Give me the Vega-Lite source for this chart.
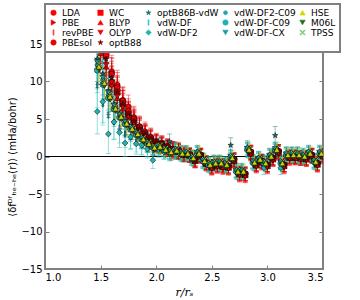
{
"$schema":"https://vega.github.io/schema/vega-lite/v6.json",
"width":278,"height":225,
"autosize":{"type":"none"},
"padding":{"left":45,"top":44,"right":37,"bottom":31},
"config":{
"font":"DejaVu Sans",
"view":{"stroke":"#808080","strokeWidth":2},
"axis":{"grid":false,"domain":false,"tickColor":"#808080","tickSize":-4,"tickWidth":1,"labelFontSize":10,"labelColor":"black","labelPadding":7,"titleFontWeight":"normal","titleColor":"black"},
"legend":{"orient":"none","legendX":0,"legendY":-40,"columns":5,"symbolSize":30,"labelFontSize":9,"labelOffset":4,"rowPadding":-2,"columnPadding":2,"padding":4,"strokeColor":"#808080","strokeWidth":2,"fillColor":"white","symbolStrokeColor":"black","symbolStrokeWidth":0.5,"symbolOpacity":1,"title":null}
},
"data":{"values":[
{"s":"LDA","x":1.5,"y":16,"e":2.6},{"s":"LDA","x":1.55,"y":14.9,"e":2.4},{"s":"LDA","x":1.6,"y":11.3,"e":2.2},{"s":"LDA","x":1.65,"y":9.5,"e":2},{"s":"LDA","x":1.7,"y":7.5,"e":1.8},{"s":"LDA","x":1.75,"y":6.6,"e":1.6},{"s":"LDA","x":1.8,"y":5.2,"e":1.5},{"s":"LDA","x":1.85,"y":4,"e":1.4},{"s":"LDA","x":1.9,"y":3.3,"e":1.3},{"s":"LDA","x":1.95,"y":2.6,"e":1.2},{"s":"LDA","x":2,"y":2,"e":1.1},{"s":"LDA","x":2.05,"y":1.8,"e":1},{"s":"LDA","x":2.1,"y":1.4,"e":1},{"s":"LDA","x":2.15,"y":1,"e":1},{"s":"LDA","x":2.2,"y":0.9,"e":1},{"s":"LDA","x":2.25,"y":0.5,"e":0.9},{"s":"LDA","x":2.3,"y":0.3,"e":0.9},{"s":"LDA","x":2.35,"y":-0.3,"e":0.9},{"s":"LDA","x":2.4,"y":0.2,"e":0.9},{"s":"LDA","x":2.45,"y":-0.8,"e":0.9},{"s":"LDA","x":2.5,"y":-1.3,"e":0.9},{"s":"LDA","x":2.55,"y":-1,"e":0.9},{"s":"LDA","x":2.6,"y":-1.2,"e":0.9},{"s":"LDA","x":2.65,"y":-1.3,"e":0.9},{"s":"LDA","x":2.7,"y":-0.4,"e":0.9},{"s":"LDA","x":2.75,"y":-2.2,"e":0.9},{"s":"LDA","x":2.8,"y":-2.3,"e":0.9},{"s":"LDA","x":2.85,"y":0.6,"e":0.9},{"s":"LDA","x":2.9,"y":-1,"e":0.9},{"s":"LDA","x":2.95,"y":-0.6,"e":0.9},{"s":"LDA","x":3,"y":-1.1,"e":0.9},{"s":"LDA","x":3.05,"y":-0.2,"e":0.9},{"s":"LDA","x":3.1,"y":0.7,"e":0.9},{"s":"LDA","x":3.15,"y":-1.1,"e":0.9},{"s":"LDA","x":3.2,"y":0,"e":0.9},{"s":"LDA","x":3.25,"y":0,"e":0.9},{"s":"LDA","x":3.3,"y":-0.1,"e":0.9},{"s":"LDA","x":3.35,"y":-0.2,"e":0.9},{"s":"LDA","x":3.4,"y":0.2,"e":0.9},{"s":"LDA","x":3.45,"y":-0.9,"e":0.9},{"s":"LDA","x":3.5,"y":0.2,"e":0.9},
{"s":"PBE","x":1.5,"y":15.2,"e":2.6},{"s":"PBE","x":1.55,"y":13.3,"e":2.4},{"s":"PBE","x":1.6,"y":10.9,"e":2.2},{"s":"PBE","x":1.65,"y":8.8,"e":2},{"s":"PBE","x":1.7,"y":7.2,"e":1.8},{"s":"PBE","x":1.75,"y":5.8,"e":1.6},{"s":"PBE","x":1.8,"y":4.8,"e":1.5},{"s":"PBE","x":1.85,"y":3.8,"e":1.4},{"s":"PBE","x":1.9,"y":3,"e":1.3},{"s":"PBE","x":1.95,"y":2.4,"e":1.2},{"s":"PBE","x":2,"y":1.8,"e":1.1},{"s":"PBE","x":2.05,"y":1.6,"e":1},{"s":"PBE","x":2.1,"y":1.2,"e":1},{"s":"PBE","x":2.15,"y":0.9,"e":1},{"s":"PBE","x":2.2,"y":0.7,"e":1},{"s":"PBE","x":2.25,"y":0.3,"e":0.9},{"s":"PBE","x":2.3,"y":0.2,"e":0.9},{"s":"PBE","x":2.35,"y":-0.5,"e":0.9},{"s":"PBE","x":2.4,"y":0.1,"e":0.9},{"s":"PBE","x":2.45,"y":-0.9,"e":0.9},{"s":"PBE","x":2.5,"y":-1.4,"e":0.9},{"s":"PBE","x":2.55,"y":-1.2,"e":0.9},{"s":"PBE","x":2.6,"y":-1.3,"e":0.9},{"s":"PBE","x":2.65,"y":-1.4,"e":0.9},{"s":"PBE","x":2.7,"y":-0.5,"e":0.9},{"s":"PBE","x":2.75,"y":-2.3,"e":0.9},{"s":"PBE","x":2.8,"y":-2.4,"e":0.9},{"s":"PBE","x":2.85,"y":0.5,"e":0.9},{"s":"PBE","x":2.9,"y":-1.1,"e":0.9},{"s":"PBE","x":2.95,"y":-0.7,"e":0.9},{"s":"PBE","x":3,"y":-1.2,"e":0.9},{"s":"PBE","x":3.05,"y":-0.3,"e":0.9},{"s":"PBE","x":3.1,"y":0.6,"e":0.9},{"s":"PBE","x":3.15,"y":-1.2,"e":0.9},{"s":"PBE","x":3.2,"y":-0.1,"e":0.9},{"s":"PBE","x":3.25,"y":-0.1,"e":0.9},{"s":"PBE","x":3.3,"y":-0.2,"e":0.9},{"s":"PBE","x":3.35,"y":-0.3,"e":0.9},{"s":"PBE","x":3.4,"y":0.1,"e":0.9},{"s":"PBE","x":3.45,"y":-1,"e":0.9},{"s":"PBE","x":3.5,"y":0.1,"e":0.9},
{"s":"revPBE","x":1.5,"y":14.5,"e":2.6},{"s":"revPBE","x":1.55,"y":12.5,"e":2.4},{"s":"revPBE","x":1.6,"y":10.2,"e":2.2},{"s":"revPBE","x":1.65,"y":8.2,"e":2},{"s":"revPBE","x":1.7,"y":6.8,"e":1.8},{"s":"revPBE","x":1.75,"y":5.5,"e":1.6},{"s":"revPBE","x":1.8,"y":4.5,"e":1.5},{"s":"revPBE","x":1.85,"y":3.6,"e":1.4},{"s":"revPBE","x":1.9,"y":2.8,"e":1.3},{"s":"revPBE","x":1.95,"y":2.2,"e":1.2},{"s":"revPBE","x":2,"y":1.7,"e":1.1},{"s":"revPBE","x":2.05,"y":1.5,"e":1},{"s":"revPBE","x":2.1,"y":1.1,"e":1},{"s":"revPBE","x":2.15,"y":0.8,"e":1},{"s":"revPBE","x":2.2,"y":0.6,"e":1},{"s":"revPBE","x":2.25,"y":0.2,"e":0.9},{"s":"revPBE","x":2.3,"y":0.1,"e":0.9},{"s":"revPBE","x":2.35,"y":-0.6,"e":0.9},{"s":"revPBE","x":2.4,"y":0,"e":0.9},{"s":"revPBE","x":2.45,"y":-1,"e":0.9},{"s":"revPBE","x":2.5,"y":-1.5,"e":0.9},{"s":"revPBE","x":2.55,"y":-1.3,"e":0.9},{"s":"revPBE","x":2.6,"y":-1.4,"e":0.9},{"s":"revPBE","x":2.65,"y":-1.5,"e":0.9},{"s":"revPBE","x":2.7,"y":-0.6,"e":0.9},{"s":"revPBE","x":2.75,"y":-2.4,"e":0.9},{"s":"revPBE","x":2.8,"y":-2.5,"e":0.9},{"s":"revPBE","x":2.85,"y":0.4,"e":0.9},{"s":"revPBE","x":2.9,"y":-1.2,"e":0.9},{"s":"revPBE","x":2.95,"y":-0.8,"e":0.9},{"s":"revPBE","x":3,"y":-1.3,"e":0.9},{"s":"revPBE","x":3.05,"y":-0.4,"e":0.9},{"s":"revPBE","x":3.1,"y":0.5,"e":0.9},{"s":"revPBE","x":3.15,"y":-1.3,"e":0.9},{"s":"revPBE","x":3.2,"y":-0.2,"e":0.9},{"s":"revPBE","x":3.25,"y":-0.2,"e":0.9},{"s":"revPBE","x":3.3,"y":-0.3,"e":0.9},{"s":"revPBE","x":3.35,"y":-0.4,"e":0.9},{"s":"revPBE","x":3.4,"y":0,"e":0.9},{"s":"revPBE","x":3.45,"y":-1.1,"e":0.9},{"s":"revPBE","x":3.5,"y":0,"e":0.9},
{"s":"PBEsol","x":1.5,"y":15.8,"e":2.6},{"s":"PBEsol","x":1.55,"y":14,"e":2.4},{"s":"PBEsol","x":1.6,"y":11,"e":2.2},{"s":"PBEsol","x":1.65,"y":9.2,"e":2},{"s":"PBEsol","x":1.7,"y":7.4,"e":1.8},{"s":"PBEsol","x":1.75,"y":6.1,"e":1.6},{"s":"PBEsol","x":1.8,"y":5,"e":1.5},{"s":"PBEsol","x":1.85,"y":3.9,"e":1.4},{"s":"PBEsol","x":1.9,"y":3.1,"e":1.3},{"s":"PBEsol","x":1.95,"y":2.5,"e":1.2},{"s":"PBEsol","x":2,"y":1.9,"e":1.1},{"s":"PBEsol","x":2.05,"y":1.7,"e":1},{"s":"PBEsol","x":2.1,"y":1.3,"e":1},{"s":"PBEsol","x":2.15,"y":1,"e":1},{"s":"PBEsol","x":2.2,"y":0.8,"e":1},{"s":"PBEsol","x":2.25,"y":0.4,"e":0.9},{"s":"PBEsol","x":2.3,"y":0.2,"e":0.9},{"s":"PBEsol","x":2.35,"y":-0.4,"e":0.9},{"s":"PBEsol","x":2.4,"y":0.2,"e":0.9},{"s":"PBEsol","x":2.45,"y":-0.8,"e":0.9},{"s":"PBEsol","x":2.5,"y":-1.3,"e":0.9},{"s":"PBEsol","x":2.55,"y":-1.1,"e":0.9},{"s":"PBEsol","x":2.6,"y":-1.2,"e":0.9},{"s":"PBEsol","x":2.65,"y":-1.3,"e":0.9},{"s":"PBEsol","x":2.7,"y":-0.4,"e":0.9},{"s":"PBEsol","x":2.75,"y":-2.2,"e":0.9},{"s":"PBEsol","x":2.8,"y":-2.3,"e":0.9},{"s":"PBEsol","x":2.85,"y":0.6,"e":0.9},{"s":"PBEsol","x":2.9,"y":-1,"e":0.9},{"s":"PBEsol","x":2.95,"y":-0.6,"e":0.9},{"s":"PBEsol","x":3,"y":-1.1,"e":0.9},{"s":"PBEsol","x":3.05,"y":-0.2,"e":0.9},{"s":"PBEsol","x":3.1,"y":0.7,"e":0.9},{"s":"PBEsol","x":3.15,"y":-1.1,"e":0.9},{"s":"PBEsol","x":3.2,"y":0,"e":0.9},{"s":"PBEsol","x":3.25,"y":0,"e":0.9},{"s":"PBEsol","x":3.3,"y":-0.1,"e":0.9},{"s":"PBEsol","x":3.35,"y":-0.2,"e":0.9},{"s":"PBEsol","x":3.4,"y":0.2,"e":0.9},{"s":"PBEsol","x":3.45,"y":-0.9,"e":0.9},{"s":"PBEsol","x":3.5,"y":0.2,"e":0.9},
{"s":"WC","x":1.5,"y":15,"e":2.6},{"s":"WC","x":1.55,"y":13.6,"e":2.4},{"s":"WC","x":1.6,"y":9.8,"e":2.2},{"s":"WC","x":1.65,"y":8.6,"e":2},{"s":"WC","x":1.7,"y":7,"e":1.8},{"s":"WC","x":1.75,"y":5.6,"e":1.6},{"s":"WC","x":1.8,"y":4.6,"e":1.5},{"s":"WC","x":1.85,"y":3.7,"e":1.4},{"s":"WC","x":1.9,"y":2.9,"e":1.3},{"s":"WC","x":1.95,"y":2.3,"e":1.2},{"s":"WC","x":2,"y":1.8,"e":1.1},{"s":"WC","x":2.05,"y":1.6,"e":1},{"s":"WC","x":2.1,"y":1.2,"e":1},{"s":"WC","x":2.15,"y":0.9,"e":1},{"s":"WC","x":2.2,"y":0.7,"e":1},{"s":"WC","x":2.25,"y":0.3,"e":0.9},{"s":"WC","x":2.3,"y":0.2,"e":0.9},{"s":"WC","x":2.35,"y":-0.5,"e":0.9},{"s":"WC","x":2.4,"y":0.1,"e":0.9},{"s":"WC","x":2.45,"y":-0.9,"e":0.9},{"s":"WC","x":2.5,"y":-1.4,"e":0.9},{"s":"WC","x":2.55,"y":-1.2,"e":0.9},{"s":"WC","x":2.6,"y":-1.3,"e":0.9},{"s":"WC","x":2.65,"y":-1.4,"e":0.9},{"s":"WC","x":2.7,"y":-0.5,"e":0.9},{"s":"WC","x":2.75,"y":-2.3,"e":0.9},{"s":"WC","x":2.8,"y":-2.4,"e":0.9},{"s":"WC","x":2.85,"y":0.5,"e":0.9},{"s":"WC","x":2.9,"y":-1.1,"e":0.9},{"s":"WC","x":2.95,"y":-0.7,"e":0.9},{"s":"WC","x":3,"y":-1.2,"e":0.9},{"s":"WC","x":3.05,"y":-0.3,"e":0.9},{"s":"WC","x":3.1,"y":0.6,"e":0.9},{"s":"WC","x":3.15,"y":-1.2,"e":0.9},{"s":"WC","x":3.2,"y":-0.1,"e":0.9},{"s":"WC","x":3.25,"y":-0.1,"e":0.9},{"s":"WC","x":3.3,"y":-0.2,"e":0.9},{"s":"WC","x":3.35,"y":-0.3,"e":0.9},{"s":"WC","x":3.4,"y":0.1,"e":0.9},{"s":"WC","x":3.45,"y":-1,"e":0.9},{"s":"WC","x":3.5,"y":0.1,"e":0.9},
{"s":"BLYP","x":1.5,"y":13.8,"e":2.6},{"s":"BLYP","x":1.55,"y":12,"e":2.4},{"s":"BLYP","x":1.6,"y":9.6,"e":2.2},{"s":"BLYP","x":1.65,"y":7.8,"e":2},{"s":"BLYP","x":1.7,"y":6.4,"e":1.8},{"s":"BLYP","x":1.75,"y":5.2,"e":1.6},{"s":"BLYP","x":1.8,"y":4.3,"e":1.5},{"s":"BLYP","x":1.85,"y":3.4,"e":1.4},{"s":"BLYP","x":1.9,"y":2.7,"e":1.3},{"s":"BLYP","x":1.95,"y":2.1,"e":1.2},{"s":"BLYP","x":2,"y":1.6,"e":1.1},{"s":"BLYP","x":2.05,"y":1.4,"e":1},{"s":"BLYP","x":2.1,"y":1,"e":1},{"s":"BLYP","x":2.15,"y":0.7,"e":1},{"s":"BLYP","x":2.2,"y":0.6,"e":1},{"s":"BLYP","x":2.25,"y":0.2,"e":0.9},{"s":"BLYP","x":2.3,"y":0.1,"e":0.9},{"s":"BLYP","x":2.35,"y":-0.6,"e":0.9},{"s":"BLYP","x":2.4,"y":0,"e":0.9},{"s":"BLYP","x":2.45,"y":-1,"e":0.9},{"s":"BLYP","x":2.5,"y":-1.5,"e":0.9},{"s":"BLYP","x":2.55,"y":-1.3,"e":0.9},{"s":"BLYP","x":2.6,"y":-1.4,"e":0.9},{"s":"BLYP","x":2.65,"y":-1.5,"e":0.9},{"s":"BLYP","x":2.7,"y":-0.6,"e":0.9},{"s":"BLYP","x":2.75,"y":-2.4,"e":0.9},{"s":"BLYP","x":2.8,"y":-2.5,"e":0.9},{"s":"BLYP","x":2.85,"y":0.4,"e":0.9},{"s":"BLYP","x":2.9,"y":-1.2,"e":0.9},{"s":"BLYP","x":2.95,"y":-0.8,"e":0.9},{"s":"BLYP","x":3,"y":-1.3,"e":0.9},{"s":"BLYP","x":3.05,"y":-0.4,"e":0.9},{"s":"BLYP","x":3.1,"y":0.5,"e":0.9},{"s":"BLYP","x":3.15,"y":-1.3,"e":0.9},{"s":"BLYP","x":3.2,"y":-0.2,"e":0.9},{"s":"BLYP","x":3.25,"y":-0.2,"e":0.9},{"s":"BLYP","x":3.3,"y":-0.3,"e":0.9},{"s":"BLYP","x":3.35,"y":-0.4,"e":0.9},{"s":"BLYP","x":3.4,"y":0,"e":0.9},{"s":"BLYP","x":3.45,"y":-1.1,"e":0.9},{"s":"BLYP","x":3.5,"y":0,"e":0.9},
{"s":"OLYP","x":1.5,"y":14.2,"e":2.6},{"s":"OLYP","x":1.55,"y":12.2,"e":2.4},{"s":"OLYP","x":1.6,"y":9.9,"e":2.2},{"s":"OLYP","x":1.65,"y":8,"e":2},{"s":"OLYP","x":1.7,"y":6.6,"e":1.8},{"s":"OLYP","x":1.75,"y":5.3,"e":1.6},{"s":"OLYP","x":1.8,"y":4.4,"e":1.5},{"s":"OLYP","x":1.85,"y":3.5,"e":1.4},{"s":"OLYP","x":1.9,"y":2.8,"e":1.3},{"s":"OLYP","x":1.95,"y":2.2,"e":1.2},{"s":"OLYP","x":2,"y":1.7,"e":1.1},{"s":"OLYP","x":2.05,"y":1.5,"e":1},{"s":"OLYP","x":2.1,"y":1.1,"e":1},{"s":"OLYP","x":2.15,"y":0.8,"e":1},{"s":"OLYP","x":2.2,"y":0.6,"e":1},{"s":"OLYP","x":2.25,"y":0.2,"e":0.9},{"s":"OLYP","x":2.3,"y":0.1,"e":0.9},{"s":"OLYP","x":2.35,"y":-0.6,"e":0.9},{"s":"OLYP","x":2.4,"y":0,"e":0.9},{"s":"OLYP","x":2.45,"y":-1,"e":0.9},{"s":"OLYP","x":2.5,"y":-1.6,"e":0.9},{"s":"OLYP","x":2.55,"y":-1.3,"e":0.9},{"s":"OLYP","x":2.6,"y":-1.5,"e":0.9},{"s":"OLYP","x":2.65,"y":-1.6,"e":0.9},{"s":"OLYP","x":2.7,"y":-0.6,"e":0.9},{"s":"OLYP","x":2.75,"y":-2.5,"e":0.9},{"s":"OLYP","x":2.8,"y":-2.6,"e":0.9},{"s":"OLYP","x":2.85,"y":0.3,"e":0.9},{"s":"OLYP","x":2.9,"y":-1.3,"e":0.9},{"s":"OLYP","x":2.95,"y":-0.9,"e":0.9},{"s":"OLYP","x":3,"y":-1.4,"e":0.9},{"s":"OLYP","x":3.05,"y":-0.4,"e":0.9},{"s":"OLYP","x":3.1,"y":0.4,"e":0.9},{"s":"OLYP","x":3.15,"y":-1.4,"e":0.9},{"s":"OLYP","x":3.2,"y":-0.3,"e":0.9},{"s":"OLYP","x":3.25,"y":-0.2,"e":0.9},{"s":"OLYP","x":3.3,"y":-0.3,"e":0.9},{"s":"OLYP","x":3.35,"y":-0.4,"e":0.9},{"s":"OLYP","x":3.4,"y":0,"e":0.9},{"s":"OLYP","x":3.45,"y":-1.2,"e":0.9},{"s":"OLYP","x":3.5,"y":-0.1,"e":0.9},
{"s":"optB88","x":1.5,"y":15,"e":2.6},{"s":"optB88","x":1.55,"y":13,"e":2.4},{"s":"optB88","x":1.6,"y":10.5,"e":2.2},{"s":"optB88","x":1.65,"y":8.6,"e":2},{"s":"optB88","x":1.7,"y":7,"e":1.8},{"s":"optB88","x":1.75,"y":5.7,"e":1.6},{"s":"optB88","x":1.8,"y":4.7,"e":1.5},{"s":"optB88","x":1.85,"y":3.7,"e":1.4},{"s":"optB88","x":1.9,"y":2.9,"e":1.3},{"s":"optB88","x":1.95,"y":2.3,"e":1.2},{"s":"optB88","x":2,"y":1.8,"e":1.1},{"s":"optB88","x":2.05,"y":1.6,"e":1},{"s":"optB88","x":2.1,"y":1.2,"e":1},{"s":"optB88","x":2.15,"y":0.9,"e":1},{"s":"optB88","x":2.2,"y":0.7,"e":1},{"s":"optB88","x":2.25,"y":0.3,"e":0.9},{"s":"optB88","x":2.3,"y":0.2,"e":0.9},{"s":"optB88","x":2.35,"y":-0.5,"e":0.9},{"s":"optB88","x":2.4,"y":0.2,"e":0.9},{"s":"optB88","x":2.45,"y":-0.8,"e":0.9},{"s":"optB88","x":2.5,"y":-1.3,"e":0.9},{"s":"optB88","x":2.55,"y":-1.1,"e":0.9},{"s":"optB88","x":2.6,"y":-1.2,"e":0.9},{"s":"optB88","x":2.65,"y":-1.3,"e":0.9},{"s":"optB88","x":2.7,"y":-0.4,"e":0.9},{"s":"optB88","x":2.75,"y":-2.2,"e":0.9},{"s":"optB88","x":2.8,"y":-2.3,"e":0.9},{"s":"optB88","x":2.85,"y":0.6,"e":0.9},{"s":"optB88","x":2.9,"y":-1,"e":0.9},{"s":"optB88","x":2.95,"y":-0.6,"e":0.9},{"s":"optB88","x":3,"y":-1.1,"e":0.9},{"s":"optB88","x":3.05,"y":-0.2,"e":0.9},{"s":"optB88","x":3.1,"y":0.7,"e":0.9},{"s":"optB88","x":3.15,"y":-1.1,"e":0.9},{"s":"optB88","x":3.2,"y":0,"e":0.9},{"s":"optB88","x":3.25,"y":0,"e":0.9},{"s":"optB88","x":3.3,"y":-0.1,"e":0.9},{"s":"optB88","x":3.35,"y":-0.2,"e":0.9},{"s":"optB88","x":3.4,"y":0.2,"e":0.9},{"s":"optB88","x":3.45,"y":-0.9,"e":0.9},{"s":"optB88","x":3.5,"y":0.2,"e":0.9},
{"s":"optB86B-vdW","x":1.47,"y":13,"e":3},{"s":"optB86B-vdW","x":1.52,"y":11,"e":2.8},{"s":"optB86B-vdW","x":1.57,"y":8.8,"e":2.6},{"s":"optB86B-vdW","x":1.62,"y":7,"e":2.3},{"s":"optB86B-vdW","x":1.67,"y":5.7,"e":2},{"s":"optB86B-vdW","x":1.72,"y":4.7,"e":1.8},{"s":"optB86B-vdW","x":1.77,"y":3.9,"e":1.6},{"s":"optB86B-vdW","x":1.82,"y":3.2,"e":1.4},{"s":"optB86B-vdW","x":1.87,"y":2.5,"e":1.3},{"s":"optB86B-vdW","x":1.92,"y":1.9,"e":1.2},{"s":"optB86B-vdW","x":1.97,"y":1.4,"e":1.1},{"s":"optB86B-vdW","x":2.02,"y":1.5,"e":1},{"s":"optB86B-vdW","x":2.07,"y":1.1,"e":1},{"s":"optB86B-vdW","x":2.12,"y":2,"e":1},{"s":"optB86B-vdW","x":2.17,"y":0.9,"e":1},{"s":"optB86B-vdW","x":2.22,"y":0.6,"e":0.9},{"s":"optB86B-vdW","x":2.27,"y":0.5,"e":0.9},{"s":"optB86B-vdW","x":2.32,"y":0,"e":0.9},{"s":"optB86B-vdW","x":2.37,"y":0.6,"e":0.9},{"s":"optB86B-vdW","x":2.42,"y":-0.4,"e":0.9},{"s":"optB86B-vdW","x":2.47,"y":-0.9,"e":0.9},{"s":"optB86B-vdW","x":2.52,"y":-0.7,"e":0.9},{"s":"optB86B-vdW","x":2.57,"y":-0.7,"e":0.9},{"s":"optB86B-vdW","x":2.62,"y":-0.9,"e":0.9},{"s":"optB86B-vdW","x":2.67,"y":1.5,"e":1},{"s":"optB86B-vdW","x":2.72,"y":-1.8,"e":0.9},{"s":"optB86B-vdW","x":2.77,"y":-1.8,"e":0.9},{"s":"optB86B-vdW","x":2.82,"y":1.2,"e":0.9},{"s":"optB86B-vdW","x":2.87,"y":-0.6,"e":0.9},{"s":"optB86B-vdW","x":2.92,"y":-0.2,"e":0.9},{"s":"optB86B-vdW","x":2.97,"y":-0.7,"e":0.9},{"s":"optB86B-vdW","x":3.02,"y":0.2,"e":0.9},{"s":"optB86B-vdW","x":3.07,"y":2.8,"e":1.2},{"s":"optB86B-vdW","x":3.12,"y":-0.7,"e":0.9},{"s":"optB86B-vdW","x":3.17,"y":0.4,"e":0.9},{"s":"optB86B-vdW","x":3.22,"y":0.4,"e":0.9},{"s":"optB86B-vdW","x":3.27,"y":0.4,"e":0.9},{"s":"optB86B-vdW","x":3.32,"y":0.2,"e":0.9},{"s":"optB86B-vdW","x":3.37,"y":0.6,"e":0.9},{"s":"optB86B-vdW","x":3.42,"y":-0.5,"e":0.9},{"s":"optB86B-vdW","x":3.47,"y":0.6,"e":0.9},
{"s":"vdW-DF","x":1.47,"y":9.5,"e":3},{"s":"vdW-DF","x":1.52,"y":7,"e":2.8},{"s":"vdW-DF","x":1.57,"y":5.5,"e":2.6},{"s":"vdW-DF","x":1.62,"y":4.6,"e":2.3},{"s":"vdW-DF","x":1.67,"y":3.8,"e":2},{"s":"vdW-DF","x":1.72,"y":3,"e":1.8},{"s":"vdW-DF","x":1.77,"y":2.6,"e":1.6},{"s":"vdW-DF","x":1.82,"y":2,"e":1.4},{"s":"vdW-DF","x":1.87,"y":1.6,"e":1.3},{"s":"vdW-DF","x":1.92,"y":1.2,"e":1.2},{"s":"vdW-DF","x":1.97,"y":0.9,"e":1.1},{"s":"vdW-DF","x":2.02,"y":1.1,"e":1},{"s":"vdW-DF","x":2.07,"y":0.7,"e":1},{"s":"vdW-DF","x":2.12,"y":0.5,"e":1},{"s":"vdW-DF","x":2.17,"y":0.6,"e":1},{"s":"vdW-DF","x":2.22,"y":0.3,"e":0.9},{"s":"vdW-DF","x":2.27,"y":0.3,"e":0.9},{"s":"vdW-DF","x":2.32,"y":-0.3,"e":0.9},{"s":"vdW-DF","x":2.37,"y":0.3,"e":0.9},{"s":"vdW-DF","x":2.42,"y":-0.7,"e":0.9},{"s":"vdW-DF","x":2.47,"y":-1.2,"e":0.9},{"s":"vdW-DF","x":2.52,"y":-1,"e":0.9},{"s":"vdW-DF","x":2.57,"y":-1,"e":0.9},{"s":"vdW-DF","x":2.62,"y":-1.2,"e":0.9},{"s":"vdW-DF","x":2.67,"y":-0.3,"e":0.9},{"s":"vdW-DF","x":2.72,"y":-2.1,"e":0.9},{"s":"vdW-DF","x":2.77,"y":-2.1,"e":0.9},{"s":"vdW-DF","x":2.82,"y":0.8,"e":0.9},{"s":"vdW-DF","x":2.87,"y":-0.9,"e":0.9},{"s":"vdW-DF","x":2.92,"y":-0.5,"e":0.9},{"s":"vdW-DF","x":2.97,"y":-1,"e":0.9},{"s":"vdW-DF","x":3.02,"y":-0.1,"e":0.9},{"s":"vdW-DF","x":3.07,"y":0.8,"e":0.9},{"s":"vdW-DF","x":3.12,"y":-1,"e":0.9},{"s":"vdW-DF","x":3.17,"y":0.1,"e":0.9},{"s":"vdW-DF","x":3.22,"y":0.1,"e":0.9},{"s":"vdW-DF","x":3.27,"y":0.1,"e":0.9},{"s":"vdW-DF","x":3.32,"y":-0.1,"e":0.9},{"s":"vdW-DF","x":3.37,"y":0.3,"e":0.9},{"s":"vdW-DF","x":3.42,"y":-0.8,"e":0.9},{"s":"vdW-DF","x":3.47,"y":0.3,"e":0.9},
{"s":"vdW-DF2","x":1.47,"y":6,"e":3},{"s":"vdW-DF2","x":1.52,"y":7.3,"e":2.8},{"s":"vdW-DF2","x":1.57,"y":3,"e":2.6},{"s":"vdW-DF2","x":1.62,"y":4.6,"e":2.3},{"s":"vdW-DF2","x":1.67,"y":3.2,"e":2},{"s":"vdW-DF2","x":1.72,"y":1.8,"e":1.8},{"s":"vdW-DF2","x":1.77,"y":2.6,"e":1.6},{"s":"vdW-DF2","x":1.82,"y":1.7,"e":1.4},{"s":"vdW-DF2","x":1.87,"y":1.5,"e":1.3},{"s":"vdW-DF2","x":1.92,"y":1,"e":1.2},{"s":"vdW-DF2","x":1.97,"y":-0.5,"e":1.1},{"s":"vdW-DF2","x":2.02,"y":0.9,"e":1},{"s":"vdW-DF2","x":2.07,"y":0.6,"e":1},{"s":"vdW-DF2","x":2.12,"y":0.4,"e":1},{"s":"vdW-DF2","x":2.17,"y":0.6,"e":1},{"s":"vdW-DF2","x":2.22,"y":0.3,"e":0.9},{"s":"vdW-DF2","x":2.27,"y":0.3,"e":0.9},{"s":"vdW-DF2","x":2.32,"y":-0.3,"e":0.9},{"s":"vdW-DF2","x":2.37,"y":0.3,"e":0.9},{"s":"vdW-DF2","x":2.42,"y":-0.7,"e":0.9},{"s":"vdW-DF2","x":2.47,"y":-1.2,"e":0.9},{"s":"vdW-DF2","x":2.52,"y":-1,"e":0.9},{"s":"vdW-DF2","x":2.57,"y":-1,"e":0.9},{"s":"vdW-DF2","x":2.62,"y":-1.2,"e":0.9},{"s":"vdW-DF2","x":2.67,"y":-0.3,"e":0.9},{"s":"vdW-DF2","x":2.72,"y":-2.1,"e":0.9},{"s":"vdW-DF2","x":2.77,"y":-2.1,"e":0.9},{"s":"vdW-DF2","x":2.82,"y":0.8,"e":0.9},{"s":"vdW-DF2","x":2.87,"y":-0.9,"e":0.9},{"s":"vdW-DF2","x":2.92,"y":-0.5,"e":0.9},{"s":"vdW-DF2","x":2.97,"y":-1.5,"e":0.9},{"s":"vdW-DF2","x":3.02,"y":-0.1,"e":0.9},{"s":"vdW-DF2","x":3.07,"y":0.8,"e":0.9},{"s":"vdW-DF2","x":3.12,"y":-1.5,"e":0.9},{"s":"vdW-DF2","x":3.17,"y":0.1,"e":0.9},{"s":"vdW-DF2","x":3.22,"y":0.1,"e":0.9},{"s":"vdW-DF2","x":3.27,"y":0.1,"e":0.9},{"s":"vdW-DF2","x":3.32,"y":-0.1,"e":0.9},{"s":"vdW-DF2","x":3.37,"y":0.3,"e":0.9},{"s":"vdW-DF2","x":3.42,"y":-0.8,"e":0.9},{"s":"vdW-DF2","x":3.47,"y":0.3,"e":0.9},
{"s":"vdW-DF2-C09","x":1.47,"y":12.2,"e":3},{"s":"vdW-DF2-C09","x":1.52,"y":10.2,"e":2.8},{"s":"vdW-DF2-C09","x":1.57,"y":8.2,"e":2.6},{"s":"vdW-DF2-C09","x":1.62,"y":6.6,"e":2.3},{"s":"vdW-DF2-C09","x":1.67,"y":5.4,"e":2},{"s":"vdW-DF2-C09","x":1.72,"y":4.5,"e":1.8},{"s":"vdW-DF2-C09","x":1.77,"y":3.8,"e":1.6},{"s":"vdW-DF2-C09","x":1.82,"y":3.1,"e":1.4},{"s":"vdW-DF2-C09","x":1.87,"y":2.4,"e":1.3},{"s":"vdW-DF2-C09","x":1.92,"y":1.8,"e":1.2},{"s":"vdW-DF2-C09","x":1.97,"y":1.3,"e":1.1},{"s":"vdW-DF2-C09","x":2.02,"y":1.4,"e":1},{"s":"vdW-DF2-C09","x":2.07,"y":1,"e":1},{"s":"vdW-DF2-C09","x":2.12,"y":0.7,"e":1},{"s":"vdW-DF2-C09","x":2.17,"y":0.9,"e":1},{"s":"vdW-DF2-C09","x":2.22,"y":0.5,"e":0.9},{"s":"vdW-DF2-C09","x":2.27,"y":0.5,"e":0.9},{"s":"vdW-DF2-C09","x":2.32,"y":-0.1,"e":0.9},{"s":"vdW-DF2-C09","x":2.37,"y":0.5,"e":0.9},{"s":"vdW-DF2-C09","x":2.42,"y":-0.5,"e":0.9},{"s":"vdW-DF2-C09","x":2.47,"y":-1,"e":0.9},{"s":"vdW-DF2-C09","x":2.52,"y":-0.8,"e":0.9},{"s":"vdW-DF2-C09","x":2.57,"y":-0.8,"e":0.9},{"s":"vdW-DF2-C09","x":2.62,"y":-1,"e":0.9},{"s":"vdW-DF2-C09","x":2.67,"y":0,"e":0.9},{"s":"vdW-DF2-C09","x":2.72,"y":-1.9,"e":0.9},{"s":"vdW-DF2-C09","x":2.77,"y":-1.9,"e":0.9},{"s":"vdW-DF2-C09","x":2.82,"y":1,"e":0.9},{"s":"vdW-DF2-C09","x":2.87,"y":-0.7,"e":0.9},{"s":"vdW-DF2-C09","x":2.92,"y":-0.3,"e":0.9},{"s":"vdW-DF2-C09","x":2.97,"y":-0.8,"e":0.9},{"s":"vdW-DF2-C09","x":3.02,"y":0.1,"e":0.9},{"s":"vdW-DF2-C09","x":3.07,"y":1,"e":0.9},{"s":"vdW-DF2-C09","x":3.12,"y":-0.8,"e":0.9},{"s":"vdW-DF2-C09","x":3.17,"y":0.3,"e":0.9},{"s":"vdW-DF2-C09","x":3.22,"y":0.3,"e":0.9},{"s":"vdW-DF2-C09","x":3.27,"y":0.3,"e":0.9},{"s":"vdW-DF2-C09","x":3.32,"y":0.1,"e":0.9},{"s":"vdW-DF2-C09","x":3.37,"y":0.5,"e":0.9},{"s":"vdW-DF2-C09","x":3.42,"y":-0.6,"e":0.9},{"s":"vdW-DF2-C09","x":3.47,"y":0.5,"e":0.9},
{"s":"vdW-DF-C09","x":1.47,"y":11.5,"e":3},{"s":"vdW-DF-C09","x":1.52,"y":9.6,"e":2.8},{"s":"vdW-DF-C09","x":1.57,"y":7.8,"e":2.6},{"s":"vdW-DF-C09","x":1.62,"y":6.3,"e":2.3},{"s":"vdW-DF-C09","x":1.67,"y":5.2,"e":2},{"s":"vdW-DF-C09","x":1.72,"y":4.3,"e":1.8},{"s":"vdW-DF-C09","x":1.77,"y":3.6,"e":1.6},{"s":"vdW-DF-C09","x":1.82,"y":2.9,"e":1.4},{"s":"vdW-DF-C09","x":1.87,"y":2.3,"e":1.3},{"s":"vdW-DF-C09","x":1.92,"y":1.7,"e":1.2},{"s":"vdW-DF-C09","x":1.97,"y":1.2,"e":1.1},{"s":"vdW-DF-C09","x":2.02,"y":1.3,"e":1},{"s":"vdW-DF-C09","x":2.07,"y":0.9,"e":1},{"s":"vdW-DF-C09","x":2.12,"y":0.6,"e":1},{"s":"vdW-DF-C09","x":2.17,"y":0.8,"e":1},{"s":"vdW-DF-C09","x":2.22,"y":0.4,"e":0.9},{"s":"vdW-DF-C09","x":2.27,"y":0.4,"e":0.9},{"s":"vdW-DF-C09","x":2.32,"y":-0.2,"e":0.9},{"s":"vdW-DF-C09","x":2.37,"y":0.4,"e":0.9},{"s":"vdW-DF-C09","x":2.42,"y":-0.6,"e":0.9},{"s":"vdW-DF-C09","x":2.47,"y":-1.1,"e":0.9},{"s":"vdW-DF-C09","x":2.52,"y":-0.9,"e":0.9},{"s":"vdW-DF-C09","x":2.57,"y":-0.9,"e":0.9},{"s":"vdW-DF-C09","x":2.62,"y":-1.1,"e":0.9},{"s":"vdW-DF-C09","x":2.67,"y":-0.1,"e":0.9},{"s":"vdW-DF-C09","x":2.72,"y":-2,"e":0.9},{"s":"vdW-DF-C09","x":2.77,"y":-2,"e":0.9},{"s":"vdW-DF-C09","x":2.82,"y":0.9,"e":0.9},{"s":"vdW-DF-C09","x":2.87,"y":-0.8,"e":0.9},{"s":"vdW-DF-C09","x":2.92,"y":-0.4,"e":0.9},{"s":"vdW-DF-C09","x":2.97,"y":-0.9,"e":0.9},{"s":"vdW-DF-C09","x":3.02,"y":0,"e":0.9},{"s":"vdW-DF-C09","x":3.07,"y":0.9,"e":0.9},{"s":"vdW-DF-C09","x":3.12,"y":-0.9,"e":0.9},{"s":"vdW-DF-C09","x":3.17,"y":0.2,"e":0.9},{"s":"vdW-DF-C09","x":3.22,"y":0.2,"e":0.9},{"s":"vdW-DF-C09","x":3.27,"y":0.2,"e":0.9},{"s":"vdW-DF-C09","x":3.32,"y":0,"e":0.9},{"s":"vdW-DF-C09","x":3.37,"y":0.4,"e":0.9},{"s":"vdW-DF-C09","x":3.42,"y":-0.7,"e":0.9},{"s":"vdW-DF-C09","x":3.47,"y":0.4,"e":0.9},
{"s":"vdW-DF-CX","x":1.47,"y":12.6,"e":3},{"s":"vdW-DF-CX","x":1.52,"y":10.5,"e":2.8},{"s":"vdW-DF-CX","x":1.57,"y":8.5,"e":2.6},{"s":"vdW-DF-CX","x":1.62,"y":6.8,"e":2.3},{"s":"vdW-DF-CX","x":1.67,"y":5.6,"e":2},{"s":"vdW-DF-CX","x":1.72,"y":4.6,"e":1.8},{"s":"vdW-DF-CX","x":1.77,"y":3.9,"e":1.6},{"s":"vdW-DF-CX","x":1.82,"y":3.1,"e":1.4},{"s":"vdW-DF-CX","x":1.87,"y":2.4,"e":1.3},{"s":"vdW-DF-CX","x":1.92,"y":1.8,"e":1.2},{"s":"vdW-DF-CX","x":1.97,"y":1.3,"e":1.1},{"s":"vdW-DF-CX","x":2.02,"y":1.4,"e":1},{"s":"vdW-DF-CX","x":2.07,"y":1,"e":1},{"s":"vdW-DF-CX","x":2.12,"y":0.7,"e":1},{"s":"vdW-DF-CX","x":2.17,"y":0.9,"e":1},{"s":"vdW-DF-CX","x":2.22,"y":0.5,"e":0.9},{"s":"vdW-DF-CX","x":2.27,"y":0.5,"e":0.9},{"s":"vdW-DF-CX","x":2.32,"y":-0.1,"e":0.9},{"s":"vdW-DF-CX","x":2.37,"y":0.5,"e":0.9},{"s":"vdW-DF-CX","x":2.42,"y":-0.5,"e":0.9},{"s":"vdW-DF-CX","x":2.47,"y":-1,"e":0.9},{"s":"vdW-DF-CX","x":2.52,"y":-0.8,"e":0.9},{"s":"vdW-DF-CX","x":2.57,"y":-0.8,"e":0.9},{"s":"vdW-DF-CX","x":2.62,"y":-1,"e":0.9},{"s":"vdW-DF-CX","x":2.67,"y":0,"e":0.9},{"s":"vdW-DF-CX","x":2.72,"y":-1.9,"e":0.9},{"s":"vdW-DF-CX","x":2.77,"y":-1.9,"e":0.9},{"s":"vdW-DF-CX","x":2.82,"y":1,"e":0.9},{"s":"vdW-DF-CX","x":2.87,"y":-0.7,"e":0.9},{"s":"vdW-DF-CX","x":2.92,"y":-0.3,"e":0.9},{"s":"vdW-DF-CX","x":2.97,"y":-0.8,"e":0.9},{"s":"vdW-DF-CX","x":3.02,"y":0.1,"e":0.9},{"s":"vdW-DF-CX","x":3.07,"y":1,"e":0.9},{"s":"vdW-DF-CX","x":3.12,"y":-0.8,"e":0.9},{"s":"vdW-DF-CX","x":3.17,"y":0.3,"e":0.9},{"s":"vdW-DF-CX","x":3.22,"y":0.3,"e":0.9},{"s":"vdW-DF-CX","x":3.27,"y":0.3,"e":0.9},{"s":"vdW-DF-CX","x":3.32,"y":0.1,"e":0.9},{"s":"vdW-DF-CX","x":3.37,"y":0.5,"e":0.9},{"s":"vdW-DF-CX","x":3.42,"y":-0.6,"e":0.9},{"s":"vdW-DF-CX","x":3.47,"y":0.5,"e":0.9},
{"s":"TPSS","x":1.485,"y":12.4,"e":2},{"s":"TPSS","x":1.535,"y":10.1,"e":1.8},{"s":"TPSS","x":1.585,"y":8.3,"e":1.6},{"s":"TPSS","x":1.635,"y":6.7,"e":1.4},{"s":"TPSS","x":1.685,"y":5.5,"e":1.3},{"s":"TPSS","x":1.735,"y":4.6,"e":1.2},{"s":"TPSS","x":1.785,"y":3.9,"e":1.1},{"s":"TPSS","x":1.835,"y":3.2,"e":1},{"s":"TPSS","x":1.885,"y":2.5,"e":0.9},{"s":"TPSS","x":1.935,"y":1.9,"e":0.8},{"s":"TPSS","x":1.985,"y":1.4,"e":0.8},{"s":"TPSS","x":2.035,"y":1.5,"e":0.8},{"s":"TPSS","x":2.085,"y":1.1,"e":0.8},{"s":"TPSS","x":2.135,"y":0.8,"e":0.8},{"s":"TPSS","x":2.185,"y":1,"e":0.8},{"s":"TPSS","x":2.235,"y":0.6,"e":0.8},{"s":"TPSS","x":2.285,"y":0.6,"e":0.8},{"s":"TPSS","x":2.335,"y":0,"e":0.8},{"s":"TPSS","x":2.385,"y":0.6,"e":0.8},{"s":"TPSS","x":2.435,"y":-0.4,"e":0.8},{"s":"TPSS","x":2.485,"y":-0.9,"e":0.8},{"s":"TPSS","x":2.535,"y":-0.7,"e":0.8},{"s":"TPSS","x":2.585,"y":-0.7,"e":0.8},{"s":"TPSS","x":2.635,"y":-0.9,"e":0.8},{"s":"TPSS","x":2.685,"y":0,"e":0.8},{"s":"TPSS","x":2.735,"y":-1.8,"e":0.8},{"s":"TPSS","x":2.785,"y":-1.8,"e":0.8},{"s":"TPSS","x":2.835,"y":1.1,"e":0.8},{"s":"TPSS","x":2.885,"y":-0.6,"e":0.8},{"s":"TPSS","x":2.935,"y":-0.2,"e":0.8},{"s":"TPSS","x":2.985,"y":-0.7,"e":0.8},{"s":"TPSS","x":3.035,"y":0.2,"e":0.8},{"s":"TPSS","x":3.085,"y":1.1,"e":0.8},{"s":"TPSS","x":3.135,"y":-0.7,"e":0.8},{"s":"TPSS","x":3.185,"y":0.4,"e":0.8},{"s":"TPSS","x":3.235,"y":0.4,"e":0.8},{"s":"TPSS","x":3.285,"y":0.4,"e":0.8},{"s":"TPSS","x":3.335,"y":0.2,"e":0.8},{"s":"TPSS","x":3.385,"y":0.6,"e":0.8},{"s":"TPSS","x":3.435,"y":-0.5,"e":0.8},{"s":"TPSS","x":3.485,"y":0.6,"e":0.8},
{"s":"M06L","x":1.485,"y":11.6,"e":2},{"s":"M06L","x":1.535,"y":9.4,"e":1.8},{"s":"M06L","x":1.585,"y":7.6,"e":1.6},{"s":"M06L","x":1.635,"y":6.1,"e":1.4},{"s":"M06L","x":1.685,"y":5,"e":1.3},{"s":"M06L","x":1.735,"y":4.1,"e":1.2},{"s":"M06L","x":1.785,"y":3.4,"e":1.1},{"s":"M06L","x":1.835,"y":2.7,"e":1},{"s":"M06L","x":1.885,"y":2,"e":0.9},{"s":"M06L","x":1.935,"y":1.4,"e":0.8},{"s":"M06L","x":1.985,"y":0.9,"e":0.8},{"s":"M06L","x":2.035,"y":1,"e":0.8},{"s":"M06L","x":2.085,"y":0.6,"e":0.8},{"s":"M06L","x":2.135,"y":0.3,"e":0.8},{"s":"M06L","x":2.185,"y":0.5,"e":0.8},{"s":"M06L","x":2.235,"y":0.1,"e":0.8},{"s":"M06L","x":2.285,"y":0.1,"e":0.8},{"s":"M06L","x":2.335,"y":-0.5,"e":0.8},{"s":"M06L","x":2.385,"y":0.1,"e":0.8},{"s":"M06L","x":2.435,"y":-0.9,"e":0.8},{"s":"M06L","x":2.485,"y":-1.4,"e":0.8},{"s":"M06L","x":2.535,"y":-1.2,"e":0.8},{"s":"M06L","x":2.585,"y":-1.2,"e":0.8},{"s":"M06L","x":2.635,"y":-1.4,"e":0.8},{"s":"M06L","x":2.685,"y":-0.5,"e":0.8},{"s":"M06L","x":2.735,"y":-2.3,"e":0.8},{"s":"M06L","x":2.785,"y":-2.3,"e":0.8},{"s":"M06L","x":2.835,"y":0.6,"e":0.8},{"s":"M06L","x":2.885,"y":-1.1,"e":0.8},{"s":"M06L","x":2.935,"y":-0.7,"e":0.8},{"s":"M06L","x":2.985,"y":-1.2,"e":0.8},{"s":"M06L","x":3.035,"y":-0.3,"e":0.8},{"s":"M06L","x":3.085,"y":0.6,"e":0.8},{"s":"M06L","x":3.135,"y":-1.2,"e":0.8},{"s":"M06L","x":3.185,"y":-0.1,"e":0.8},{"s":"M06L","x":3.235,"y":-0.1,"e":0.8},{"s":"M06L","x":3.285,"y":-0.1,"e":0.8},{"s":"M06L","x":3.335,"y":-0.3,"e":0.8},{"s":"M06L","x":3.385,"y":0.1,"e":0.8},{"s":"M06L","x":3.435,"y":-1,"e":0.8},{"s":"M06L","x":3.485,"y":0.1,"e":0.8},
{"s":"HSE","x":1.485,"y":12,"e":2},{"s":"HSE","x":1.535,"y":9.8,"e":1.8},{"s":"HSE","x":1.585,"y":8,"e":1.6},{"s":"HSE","x":1.635,"y":6.4,"e":1.4},{"s":"HSE","x":1.685,"y":5.3,"e":1.3},{"s":"HSE","x":1.735,"y":4.4,"e":1.2},{"s":"HSE","x":1.785,"y":3.7,"e":1.1},{"s":"HSE","x":1.835,"y":3,"e":1},{"s":"HSE","x":1.885,"y":2.3,"e":0.9},{"s":"HSE","x":1.935,"y":1.7,"e":0.8},{"s":"HSE","x":1.985,"y":1.2,"e":0.8},{"s":"HSE","x":2.035,"y":1.3,"e":0.8},{"s":"HSE","x":2.085,"y":0.9,"e":0.8},{"s":"HSE","x":2.135,"y":0.6,"e":0.8},{"s":"HSE","x":2.185,"y":0.8,"e":0.8},{"s":"HSE","x":2.235,"y":0.4,"e":0.8},{"s":"HSE","x":2.285,"y":0.4,"e":0.8},{"s":"HSE","x":2.335,"y":-0.2,"e":0.8},{"s":"HSE","x":2.385,"y":0.4,"e":0.8},{"s":"HSE","x":2.435,"y":-0.6,"e":0.8},{"s":"HSE","x":2.485,"y":-1.1,"e":0.8},{"s":"HSE","x":2.535,"y":-0.9,"e":0.8},{"s":"HSE","x":2.585,"y":-0.9,"e":0.8},{"s":"HSE","x":2.635,"y":-1.1,"e":0.8},{"s":"HSE","x":2.685,"y":-0.2,"e":0.8},{"s":"HSE","x":2.735,"y":-2,"e":0.8},{"s":"HSE","x":2.785,"y":-2,"e":0.8},{"s":"HSE","x":2.835,"y":0.9,"e":0.8},{"s":"HSE","x":2.885,"y":-0.8,"e":0.8},{"s":"HSE","x":2.935,"y":-0.4,"e":0.8},{"s":"HSE","x":2.985,"y":-0.9,"e":0.8},{"s":"HSE","x":3.035,"y":0,"e":0.8},{"s":"HSE","x":3.085,"y":0.9,"e":0.8},{"s":"HSE","x":3.135,"y":-0.9,"e":0.8},{"s":"HSE","x":3.185,"y":0.2,"e":0.8},{"s":"HSE","x":3.235,"y":0.2,"e":0.8},{"s":"HSE","x":3.285,"y":0.2,"e":0.8},{"s":"HSE","x":3.335,"y":0,"e":0.8},{"s":"HSE","x":3.385,"y":0.4,"e":0.8},{"s":"HSE","x":3.435,"y":-0.7,"e":0.8},{"s":"HSE","x":3.485,"y":0.4,"e":0.8}
]},
"resolve":{"axis":{"x":"independent","y":"independent"}},
"layer":[
{"mark":{"type":"rule","color":"black","strokeWidth":1},"encoding":{"y":{"datum":0,"type":"quantitative","scale":{"domain":[-15,15]},"axis":null}}},
{"mark":{"type":"errorbar","ticks":{"size":5},"opacity":0.45,"thickness":1,"clip":true},
"encoding":{
"x":{"field":"x","type":"quantitative","scale":{"domain":[1,3.5],"nice":false},"axis":{"orient":"bottom","values":[1,1.5,2,2.5,3,3.5],"format":".1f","title":"r/rₛ","titleFont":"DejaVu Serif","titleFontStyle":"italic","titleFontSize":11,"titlePadding":4}},
"y":{"field":"y","type":"quantitative","scale":{"domain":[-15,15],"nice":false},"axis":{"orient":"left","values":[-15,-10,-5,0,5,10,15],"title":"⟨δfᴰᶠₕₑ₋ₕₑ(r)⟩ (mHa/bohr)","titleFontSize":10,"titleX":-28,"titleY":112.5,"titleBaseline":"bottom","titleAngle":-90,"titleAlign":"center"}},
"yError":{"field":"e"},
"color":{"field":"s","type":"nominal","scale":{"domain":["LDA","PBE","M06L","vdW-DF-CX","WC","BLYP","revPBE","TPSS","optB86B-vdW","vdW-DF","OLYP","PBEsol","vdW-DF2-C09","vdW-DF-C09","vdW-DF2","optB88","HSE"],"range":["#ff0000","#e60000","#1f6e1f","#169c9c","#ff0000","#ff0000","#ff4040","#7ccc7c","#1b6f6f","#33cccc","#f00000","#ee0000","#21a6a6","#20b2b2","#20b2b2","#800000","#d4d400"]}}
}},
{"mark":{"type":"point","filled":true,"size":34,"stroke":"black","strokeWidth":0.5,"opacity":1,"clip":true},
"encoding":{
"x":{"field":"x","type":"quantitative","axis":{"orient":"top","values":[1,1.5,2,2.5,3,3.5],"labels":false,"title":null}},
"y":{"field":"y","type":"quantitative","axis":{"orient":"right","values":[-15,-10,-5,0,5,10,15],"labels":false,"title":null}},
"color":{"field":"s","type":"nominal"},
"shape":{"field":"s","type":"nominal","scale":{"domain":["LDA","PBE","M06L","vdW-DF-CX","WC","BLYP","revPBE","TPSS","optB86B-vdW","vdW-DF","OLYP","PBEsol","vdW-DF2-C09","vdW-DF-C09","vdW-DF2","optB88","HSE"],"range":["circle","triangle-right","triangle-down","triangle-down","square","triangle-up","M-0.2,-1L0.2,-1L0.2,1L-0.2,1Z","M-1,-0.7L-0.7,-1L0,-0.3L0.7,-1L1,-0.7L0.3,0L1,0.7L0.7,1L0,0.3L-0.7,1L-1,0.7L-0.3,0Z","M0,-1L0.22,-0.31L0.95,-0.31L0.36,0.12L0.59,0.81L0,0.38L-0.59,0.81L-0.36,0.12L-0.95,-0.31L-0.22,-0.31Z","M-0.2,-1L0.2,-1L0.2,1L-0.2,1Z","triangle-down","circle","M0,-0.8L0.7,-0.4L0.7,0.4L0,0.8L-0.7,0.4L-0.7,-0.4Z","circle","diamond","M0,-1L0.22,-0.31L0.95,-0.31L0.36,0.12L0.59,0.81L0,0.38L-0.59,0.81L-0.36,0.12L-0.95,-0.31L-0.22,-0.31Z","triangle-up"]}}
}}
]
}
